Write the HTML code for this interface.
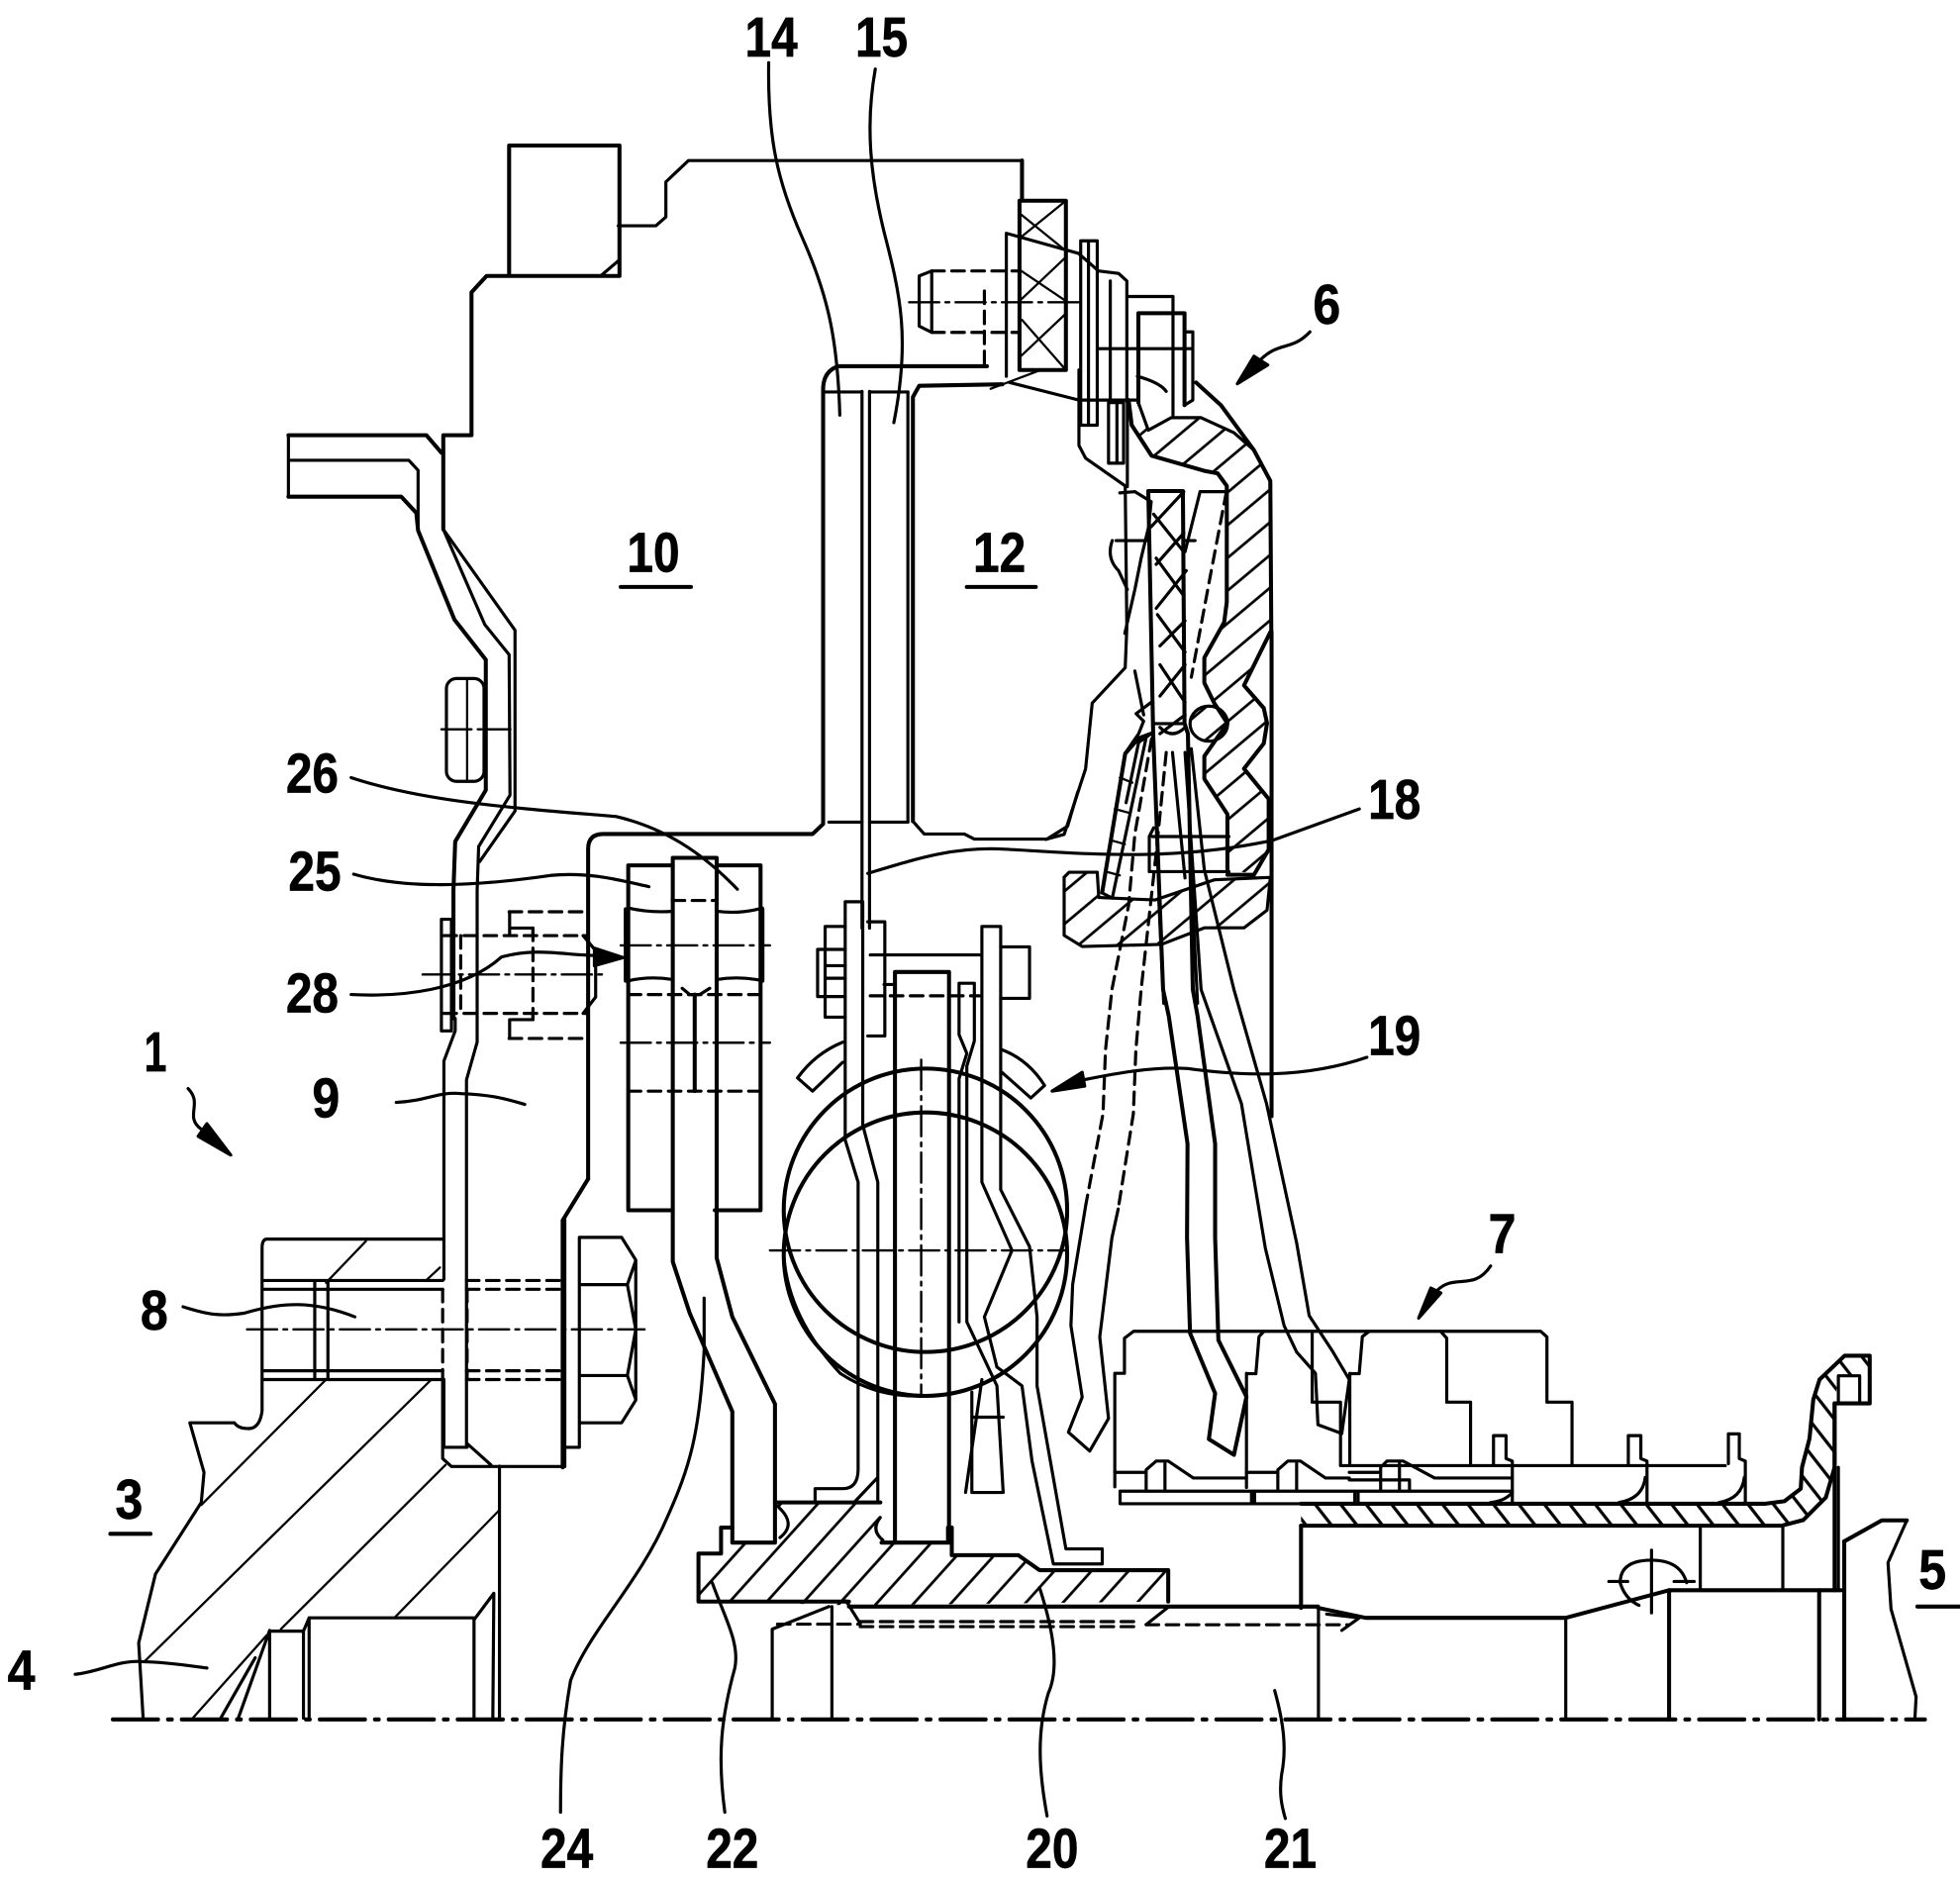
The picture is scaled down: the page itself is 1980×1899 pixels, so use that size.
<!DOCTYPE html>
<html><head><meta charset="utf-8"><title>Diagram</title>
<style>
html,body{margin:0;padding:0;background:#fff}
svg{display:block}
text{font-family:"Liberation Sans",sans-serif;font-weight:700;font-size:45px;fill:#000;stroke:#000;stroke-width:.5;text-anchor:middle;dominant-baseline:central}
path,polyline,line,circle,ellipse,rect{fill:none;stroke:#000;stroke-linecap:round;stroke-linejoin:round}
.d{stroke-dasharray:10 6}.c{stroke-dasharray:24 5 3 5;stroke-width:1.9}
.t{stroke-width:1.8}.k{stroke-width:3.2}
</style></head><body>
<svg xmlns="http://www.w3.org/2000/svg" width="1980" height="1899" viewBox="0 0 1563 1499" stroke-width="2.5">
<defs>
<pattern id="h1" width="20" height="20" patternUnits="userSpaceOnUse" patternTransform="rotate(-40)"><line x1="0" y1="10" x2="20" y2="10" stroke="#000" stroke-width="2.2"/></pattern>
<pattern id="h2" width="16" height="16" patternUnits="userSpaceOnUse" patternTransform="rotate(-128)"><line x1="0" y1="8" x2="16" y2="8" stroke="#000" stroke-width="2.6"/></pattern>
<pattern id="h3" width="22" height="22" patternUnits="userSpaceOnUse" patternTransform="rotate(-48)"><line x1="0" y1="11" x2="22" y2="11" stroke="#000" stroke-width="2.2"/></pattern>
</defs>
<rect width="1563" height="1499" style="fill:#fff;stroke:none"/>

<!-- hatched fills -->
<path style="fill:url(#h1);stroke:none" d="M848.6,699.5L852.5,695.5L875,695.5L876,716L921,717.6L968,701.5L1012,699.6L1010,725.7L992,740L960,740L926,753L863,754.7L848.6,745.8Z"/>
<path style="fill:url(#h1);stroke:none" d="M907.8,321L915.7,343L934,333L958,333L984,345L1000,359L1013,383L1014,504L992,546L1008,565L1010,577L1008,593L992,613L1012,637L1012,677L1000,697L979,693L979,649L960,621L960,603L979,577L968,561L960,544L960,524L976,496L978,480L978,387L971,377L960,375L918,363L902,339Z"/>
<path style="fill:url(#h3);stroke:none" d="M557,1238.7L575,1238.7L575,1218L584,1218L584,1230L618,1230L625,1220L620,1198L702,1196.5L700,1230L756,1230L759,1218L761,1240L812,1240L829,1252L931.6,1252.4L931.6,1277L677,1280L557,1276.5Z"/>
<path style="fill:url(#h2);stroke:none" d="M1037.5,1199L1408,1199L1423,1197L1436,1187L1437,1170L1443,1147L1446,1116L1451,1100L1471,1081L1491,1081L1491,1097L1466,1097L1463,1119L1463,1170L1456,1194L1438,1212L1421,1216.5L1037.5,1216.5Z"/>
<ellipse cx="964" cy="577" rx="15" ry="14" style="fill:url(#h1)"/>

<!-- main housing -->
<path class="k" d="M406,116V220M406,116H494V220H388L376,233V347H353.5V422"/>
<path d="M479,220L493,208M493,180H523L531,173V145L549,128H815V160"/>
<path class="k" d="M230,347H340L352,361M230,396H320L332,409L333.4,423L362.4,494L387.4,526V630L363,671L361.6,710V812"/>
<path d="M230,347V396M230,367H326L333.4,375V423"/>
<path d="M353.5,422L386.6,498L406,522L406.7,634L381.7,675L380.5,710V831L372,861V1154"/>
<path d="M353.5,422L410.7,502.5V646.7L382.5,687"/>
<rect x="356" y="541" width="30" height="82" rx="8"/>
<path class="t" d="M372.5,541V623"/>
<path class="c" d="M352,581.5H407"/>
<path class="k" d="M469,940V677Q469,665 481,665H648L656.4,657V310.5Q656.4,296 668.5,292H787"/>
<path d="M656.4,312.5H687.4M693.4,312.5H724M661,655.5H687.4M693.4,655.5H724"/>
<path d="M687.4,312V740M693.4,312V740M724,312.5V655.5"/>
<path class="k" d="M728,654.8V316.5L733,307.6L799.3,306.4"/>
<path d="M728,654.8L737,665H769L777,669H835L851.4,658.7L859.4,631.5"/>

<!-- bolt (top right) and bell -->
<path class="d" d="M743,216H813M743,265H813"/>
<path d="M743,216L733,220V260L743,265V216"/>
<path class="c" d="M725,241H860"/>
<path class="d" d="M785,232V292"/>
<path class="k" d="M815,128V160H850V295H813V160"/>
<path style="stroke-width:1.8" d="M813,190L850,160M813,240L850,205M813,285L850,250M813,170L850,200M830,295L790,310M815,255L850,295M813,215L850,240"/>
<path d="M802.5,186V300M802.5,186L860,202L876,216L892,218L898.6,224V320"/>
<path d="M861.8,192H875V339H861.8V192M868,192V339"/>
<path d="M885.4,224V320M900,236.4H935.4V331"/>
<path class="k" d="M907.8,321V249.7H944.6V323"/>
<path d="M944.6,264.6H951.2V319L944.6,323"/>
<path d="M876,278H950M907,300Q925,305 930,312"/>
<path d="M884,321H896V369.3H884V321M890.7,321V369"/>
<path d="M805,304.9L860.4,319H907M860.4,295V355.2L865.7,365.3L897.3,387.4L898.6,500L897.3,532.4L871,560.6L865.7,613L848.6,665.3L834,669.3"/>
<path d="M899,320V388"/>
<path class="k" d="M953.8,305L973.6,323L1000,359L1013,383.4L1013.8,504"/>
<path class="k" d="M900,319L902.5,339L918.3,363.3L960.4,375.4L971,377.4L978.3,387.4V480L976.2,496.2L960.4,524.4V544.5L968.3,560.6L978.8,576.7L960.4,602.9V621L978.8,649.2V693.5"/>
<path d="M907.8,321L915.7,343L934,333H957.8L984,345L1000,359"/>
<path class="k" d="M1013,504L992,546.5L1007.8,564.6L1010.4,576.7L1007.8,592.8L992,612.9L1011.7,637V677.4L1000,697.5H978.8"/>
<path class="k" d="M1014,504V890"/>
<path d="M848.6,699.5L852.5,695.5H875L876.2,715.6L921,717.6L968.3,701.5L1012,699.6"/>
<path d="M848.6,699.5V745.8L863,754.7L926.2,753L960.4,739.8H992L1010.4,725.7L1013,700"/>
<!-- friction / clutch -->
<path class="k" d="M915.7,391.5H943.3L944.6,576.7L947.3,585L951.2,789L955,810L969,912V987L971.6,1068.5L994,1113.7L984,1160L964,1147.5L969,1111L949,1063L946.6,987L947,912L932,810L927.5,789L919.6,585L915.7,391.5"/>
<path d="M918,420L944,392M920,410L944,440M922,450L944,425M922,485L946,455M922,445L944,475M925,515L945,495M923,490L945,520M925,555L945,530M925,530L945,560M925,585L945,570"/>
<path d="M893,393L905,392L918,400L916,420L910,445L905,470L897,505M957,392L978,392M957,392L945,440"/>
<path class="d" d="M978,392L965,460L950,540"/>
<path d="M890,431H915M945,431H953M887,431Q882,445 892,455L899,470"/>
<path d="M905,535L912,570M919.6,577H944.6M925,580Q935,590 945,580"/>
<path d="M918,560L906,569L912,575L908,585L897,601L879,712L886.7,716M918,585L908,592L898,640M914,588L887,716"/>
<path class="k" d="M878.9,711.6L897.3,600.9L907.8,588.8L918.3,584.8"/>
<path class="t" d="M893,620L903,624M889,645L900,648M886,670L897,673M882,695L893,698"/>
<path d="M919,667H980M916.5,667V695H980M916.5,667L920,660"/>
<path d="M950,597L960.4,693.5L984,789L1010,880L1034,991L1044,1049L1063,1078L1076,1100L1070,1143L1051,1136L1049,1095L1034,1078L1024,1057L1009,995L990,880L957.8,789L945,600"/>
<path class="d" d="M918.3,589L905,665L900,722L886.7,789L881.6,837L879.6,888L866,960"/>
<path class="d" d="M930,600L922,680L910,789L905.8,837L903.8,888L891.7,964"/>
<path d="M866,960L855.4,1024L854,1057L863,1114L852,1142L869,1157L884,1131L877,1066L886.7,987L891.7,964"/>
<path d="M924,716L928,800"/>
<path d="M935,600L945,700M950,700L955,800"/>

<!-- spring block -->
<path class="k" d="M501,690H536.5M571.5,690H606.5M501,690V965H536.5M606.5,690V965H570"/>
<path class="k" d="M499,725V782M608,725V782"/>
<path d="M501,724Q518,728 536.5,726.6M571.5,726.6Q590,729 608,724M501,782Q518,778 536.5,781M571.5,781Q590,778 608,782"/>
<path class="k" d="M536.5,690V684H571.5V1003L584,1050L618,1119.4V1230H584V1125.5L550,1047L536.5,1006V690"/>
<path class="c" d="M495,753.8H614M495,831.4H614"/>
<path class="d" d="M501,793H606M501,870H606M536,718H571"/>
<path class="k" d="M554,793V870"/>
<path d="M544,788L550,793L558,793L566,788"/>

<!-- left bolt dashed -->
<path class="d" d="M406,727H469M406,828H469M354,746H469M354,808H469"/>
<path d="M406.4,727V745M406.4,813V828M408,740H425V746M408,813H425V808"/>
<path class="d" d="M425,740V813M367.4,746V808"/>
<path d="M465,746L475,758V795L465,808"/>
<path d="M352,733H360V822H352Z"/>
<path class="c" d="M337,777H481"/>
<path d="M363,812V822L354,846V1020M354,1100V1154"/>
<path class="k" d="M469,940L448.7,973V1170"/>

<!-- centre section, circles -->
<circle cx="738" cy="965" r="113" class="k"/>
<circle cx="738" cy="1000" r="113" class="k"/>
<path d="M625,1000Q628,1050 670,1095Q700,1115 738,1113"/>
<path class="c" d="M614,997H851"/>
<path class="c" d="M734.6,845V1112"/>
<path d="M672,831Q650,840 636,859.5L648,870L672,847M799,837Q820,845 833,865.5L822,875.5L799,855"/>
<path d="M700,1198V942.6L688,897V719H674V909L684.3,942.6V1172Q684,1187 672,1187H650V1197M700,1178L682,1197"/>
<path d="M658,738.7H674M658,811H674M658,738.7V811M652,757V794.6H674M652,757H674M658,770H674M658,780H674"/>
<path d="M692,735H705.6V826H692M694,761.4H781M705,785H713"/>
<path class="d" d="M694,794H781"/>
<path d="M783,738.7H798V948.6L821,994L827,1050V1105L850,1235H879V1247H840L823,1165L815,1105L795,1090L785,1050L807,997L783,942.6V738.7"/>
<path d="M798,755H821V796H798"/>
<path class="k" d="M713.7,1230V775H756.8V1230"/>
<path d="M764.8,784H777V830L771,850V1054L795,1105L800,1190H775V1110M764.8,784V825L771,840L764.8,860V1054"/>
<path d="M783,1100L770,1190M775,1130H800"/>

<!-- lower left hub -->
<path d="M353,988H213Q209,988 209,995V1125Q207,1140 197,1139Q190,1139 187,1134.5H151.4L162.7,1174L160.5,1198L124,1255L110.6,1310L114.2,1371"/>
<path class="t" d="M291.8,989.6L260,1022.8M260,1100L160.5,1200M344,1100L115,1325M355.3,1168L224,1299M398.3,1204L314.5,1290M350.8,1010.7L339.4,1021.3M212.6,1304L153.7,1370"/>
<path d="M210,1021H353M210,1028H353M210,1093H353M210,1100H353"/>
<path class="d" d="M372,1021H450M372,1028H450M372,1093H450M372,1100H450M353,1028V1100M372.5,1028V1100"/>
<path d="M251,1022V1099M261.5,1022V1099"/>
<path class="c" d="M197,1060H514"/>
<path d="M353,1100V1163L360,1169.3H450.4M372.5,1151L391.5,1168M353,1154H372.5"/>
<path d="M450.4,972V1169.3M462,986.6H495.7L507,1004.7V1116.4L495.7,1134.5H462M462,986.6V1154H450.4M462,1024.3H500.3M462,1096.8H500.3L507,1116M500.3,1024.3L507,1005M500.3,1024.3L507,1060L500.3,1096.8"/>
<path d="M398.3,1169V1370M378,1291.6L393.8,1270.4L393,1370M378,1290V1370M246.5,1290H378M246.5,1290L242,1300.6M215,1300.6H242M215,1300.6V1370M242,1300V1370M246.5,1290V1370M203.5,1321.8L176,1370M215,1300L190,1370"/>
<path class="k" d="M90,1371H1535" style="stroke-dasharray:36 8 3 8"/>

<!-- hub -->
<path class="k" d="M557,1238.7H575V1218H584M557,1238.7V1277H677M677,1281H1051"/>
<path class="k" d="M618,1198H702M703,1230H756V1218H759V1240H812L829,1252H931.6V1277"/>
<path d="M620,1201Q636,1215 622,1226M702,1210Q694,1220 704,1228"/>
<path d="M615.8,1371V1299L661,1281M663.4,1281V1371"/>
<path class="d" d="M620,1295H686M686,1293H906M686,1297H906M914,1295.5H1075"/>
<path d="M674.7,1276.5L686,1294.6M914,1295.4L931.6,1281.5M1070,1300L1084,1290L1058,1287"/>
<path class="k" d="M1051,1282L1089,1290H1248.6L1331,1268H1468"/>
<path d="M1051.4,1283V1371M1248.6,1290V1371"/>
<path class="k" d="M1331,1268V1371M1470.7,1229V1371M1450.7,1268V1371M1463,1119V1268"/>
<path d="M1466,1170V1268M1355.9,1216.5V1267M1421.7,1216.5V1267"/>
<path class="k" d="M1037.5,1216.5V1282"/>
<path d="M1292,1262Q1292,1244 1317,1244Q1340,1244 1345,1262M1292,1262Q1296,1275 1307,1280"/>
<path d="M1317,1236V1286M1283,1261H1298M1335,1261H1351"/>

<!-- ring 7 -->
<path d="M889,1185.5V1095H896.7V1067L904,1061.5H1228.6L1233.6,1066V1118H1253.6V1168.6M994,1095.3H1001.5L1004,1065.7L1008,1061.5M994,1095V1186M1046.4,1061.5V1118H1069V1168M1076.4,1095.3H1083.9L1086.4,1065.7L1092,1061.5M1076.4,1095V1168M1148.7,1061.5L1153.7,1067V1118H1172.7V1168.6"/>
<path d="M1069,1168.6H1375.8"/>
<path d="M1191,1167V1144.7H1201V1163L1206,1165V1198M1298.5,1167V1144.7H1308.5V1163L1313.4,1165V1198M1378.3,1167V1143.3H1387V1163L1391.8,1165V1198"/>
<path d="M1312,1178Q1310,1195 1291,1198M1391,1178Q1389,1195 1370.8,1198M1206,1190Q1200,1197 1188.7,1198"/>
<path d="M893.2,1189H1206M893.2,1189V1199H1206M998,1189V1199M1000.5,1189V1199M1080.4,1189V1199M1083,1189V1199"/>
<path d="M889,1174H914M914,1188V1172L922,1165H931.6L951.6,1178.5H994M929,1188V1167M994,1174H1019M1019,1188V1172L1027,1165H1037L1057,1178.5H1076M1034,1188V1167M1076,1174H1101M1101,1188V1170L1106,1165H1119L1144,1178.5H1206M1116,1188V1167M1124,1180V1188M1076,1180H1124"/>
<path class="k" d="M1037.5,1199H1408L1423,1197L1436,1187L1437,1170L1443,1147L1446,1116L1451,1100L1471,1081H1491V1119H1463V1170L1456,1194L1438,1212L1421,1216.5H1037.5"/>
<path d="M1466,1097H1483V1119M1466,1097V1119"/>
<path class="k" d="M1470.7,1229L1500.6,1212.3H1520.6"/>

<!-- leaders -->
<path d="M1520.6,1212.3L1505.6,1246L1508,1283L1528,1353L1527,1371"/>
<path d="M613,50C612,110 620,145 640,190C660,235 668,270 669.7,331"/>
<path d="M698,55C690,100 694,140 705,185C718,235 726,270 712.8,337"/>
<path d="M1044.6,264.6C1030,280 1020,272 1005,287"/>
<path d="M986.7,306L1000,284L1011,291Z" style="fill:#000"/>
<path d="M1188.7,1009.4C1175,1030 1160,1015 1146,1029"/>
<path d="M1131.3,1051L1141,1027L1149,1031Z" style="fill:#000"/>
<path d="M150,868C162,880 147,890 160,900"/>
<path d="M184,921L158,906L165,896Z" style="fill:#000"/>
<path d="M280,620C340,640 420,645 491,651C530,660 560,680 588,709"/>
<path d="M282,697C320,708 370,708 439,698C470,695 495,702 517.5,707"/>
<path d="M280,793C320,795 370,790 400,763C430,755 450,762 480,762"/>
<path d="M497,763.5L474,756V770Z" style="fill:#000"/>
<path d="M316,879C340,878 350,870 368,872C390,873 400,875 418.5,880.6"/>
<path d="M146,1042C165,1048 175,1050 195,1047C225,1038 250,1037 283,1050"/>
<path d="M692,696.4C730,685 760,675 800,677C860,680 930,688 1015,670L1084,645"/>
<path d="M1090,843C1040,860 990,858 947,852C915,850 880,858 859,862"/>
<path d="M839,870L863,855L865,866Z" style="fill:#000"/>
<path d="M60,1335C80,1333 95,1323 115,1325C130,1325 150,1328 165,1330"/>
<path d="M561.5,1035V1077C558,1143 550,1170 532,1210C510,1262 470,1300 455,1340C448,1380 447,1410 447,1445"/>
<path d="M568,1262C578,1290 590,1310 586,1330C575,1370 572,1400 578,1445"/>
<path d="M829,1266C840,1300 845,1330 836,1350C827,1380 828,1410 835,1448"/>
<path d="M1016.5,1348C1024,1375 1026,1395 1022,1415C1020,1430 1022,1440 1025,1450"/>

<!-- labels -->
<text x="615" y="30" textLength="42" lengthAdjust="spacingAndGlyphs">14</text>
<text x="703" y="30" textLength="42" lengthAdjust="spacingAndGlyphs">15</text>
<text x="1058" y="243" textLength="22" lengthAdjust="spacingAndGlyphs">6</text>
<text x="521" y="441" textLength="42" lengthAdjust="spacingAndGlyphs">10</text>
<text x="797" y="441" textLength="42" lengthAdjust="spacingAndGlyphs">12</text>
<text x="249" y="617" textLength="42" lengthAdjust="spacingAndGlyphs">26</text>
<text x="251" y="695" textLength="42" lengthAdjust="spacingAndGlyphs">25</text>
<text x="249" y="792" textLength="42" lengthAdjust="spacingAndGlyphs">28</text>
<text x="1112" y="638" textLength="42" lengthAdjust="spacingAndGlyphs">18</text>
<text x="1112" y="826" textLength="42" lengthAdjust="spacingAndGlyphs">19</text>
<text x="124" y="839" textLength="18" lengthAdjust="spacingAndGlyphs">1</text>
<text x="260" y="876" textLength="22" lengthAdjust="spacingAndGlyphs">9</text>
<text x="1198" y="984" textLength="22" lengthAdjust="spacingAndGlyphs">7</text>
<text x="123" y="1045" textLength="22" lengthAdjust="spacingAndGlyphs">8</text>
<text x="103" y="1196" textLength="22" lengthAdjust="spacingAndGlyphs">3</text>
<text x="1541" y="1252" textLength="22" lengthAdjust="spacingAndGlyphs">5</text>
<text x="17" y="1332" textLength="22" lengthAdjust="spacingAndGlyphs">4</text>
<text x="452" y="1474" textLength="42" lengthAdjust="spacingAndGlyphs">24</text>
<text x="584" y="1474" textLength="42" lengthAdjust="spacingAndGlyphs">22</text>
<text x="839" y="1474" textLength="42" lengthAdjust="spacingAndGlyphs">20</text>
<text x="1029" y="1474" textLength="42" lengthAdjust="spacingAndGlyphs">21</text>
<path class="k" d="M495,468H551M771,468H826M88,1223H120M1529,1281H1563"/>
</svg>
</body></html>
